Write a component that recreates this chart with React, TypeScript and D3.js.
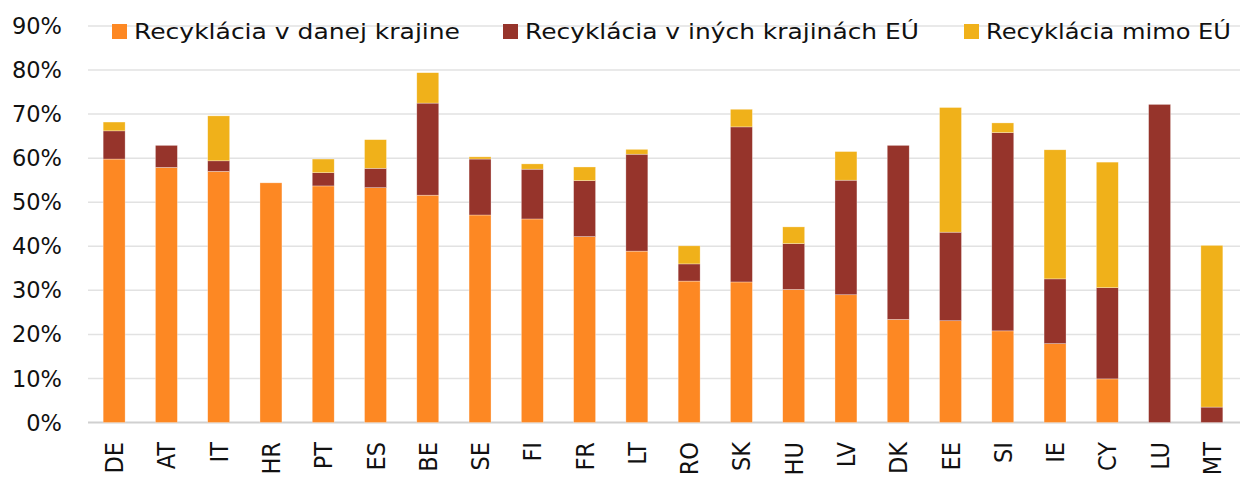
import * as d3 from "d3";

const countries = ["DE", "AT", "IT", "HR", "PT", "ES", "BE", "SE", "FI", "FR", "LT", "RO", "SK", "HU", "LV", "DK", "EE", "SI", "IE", "CY", "LU", "MT"];
// podiel recyklácie v danej krajine (%)
const domestic = [59.8, 57.9, 57.0, 54.4, 53.7, 53.3, 51.6, 47.1, 46.2, 42.2, 38.9, 32.1, 31.9, 30.2, 29.0, 23.4, 23.1, 20.8, 17.9, 9.9, 0, 0];
const otherEu = [6.4, 5.0, 2.4, 0, 3.0, 4.4, 20.9, 12.7, 11.3, 12.7, 22.0, 3.9, 35.2, 10.4, 26.0, 39.5, 20.1, 45.0, 14.7, 20.7, 72.2, 3.5];
const outsideEu = [2.0, 0, 10.2, 0, 3.1, 6.5, 6.9, 0.5, 1.2, 3.1, 1.1, 4.1, 4.0, 3.8, 6.5, 0, 28.3, 2.2, 29.3, 28.5, 0, 36.7];
const seriesNames = ["Recyklácia v danej krajine", "Recyklácia v iných krajinách EÚ", "Recyklácia mimo EÚ"];
const colors = ["#FD8823", "#96342B", "#F0B11A"];
const yTicks = [0, 10, 20, 30, 40, 50, 60, 70, 80, 90];

const W = 1240;
const H = 477;
const left = 88;
const right = 1238;
const top = 26;
const bottom = 422.5;
const font = "'DejaVu Sans', sans-serif";

// legenda: pozícia štvorčeka a šírka textu
const legendX = [112, 503, 964];
const legendLen = [326, 394, 245];

export default function App() {
  const x = d3.scaleBand<string>().domain(countries).range([left, right]).paddingInner(0.58).paddingOuter(0.29);
  const y = d3.scaleLinear().domain([0, 90]).range([bottom, top]);

  const rows = countries.map((c, i) => ({ c, a: domestic[i], b: otherEu[i], d: outsideEu[i] }));
  const stack = d3.stack<any>().keys(["a", "b", "d"])(rows);

  return (
    <svg width={W} height={H} style={{ position: "absolute", left: 0, top: 0, background: "#fff" }} fontFamily={font}>
      {yTicks.map((t) => (
        <g key={t}>
          <line x1={left} x2={W} y1={y(t)} y2={y(t)} stroke={t === 0 ? "#d0d0d0" : "#e2e2e2"} strokeWidth={t === 0 ? 2 : 1.5} />
          <text x={62} y={y(t)} dy="0.36em" textAnchor="end" fontSize={22.5} fill="#111">
            {t}%
          </text>
        </g>
      ))}

      {stack.map((layer, si) => (
        <g key={si} fill={colors[si]}>
          {layer.map((d, i) =>
            d[1] - d[0] > 0 ? (
              <rect
                key={i}
                x={x(countries[i])}
                width={x.bandwidth()}
                y={y(d[1])}
                height={y(d[0]) - y(d[1])}
                stroke="#fff"
                strokeOpacity={0.5}
                strokeWidth={0.6}
              />
            ) : null
          )}
        </g>
      ))}

      {countries.map((c) => {
        const cx = (x(c) ?? 0) + x.bandwidth() / 2;
        return (
          <text
            key={c}
            transform={`translate(${cx},442) rotate(-90)`}
            textAnchor="end"
            dy="0.36em"
            fontSize={25}
            fontFamily="'DejaVu Sans Condensed', 'DejaVu Sans', sans-serif"
            fill="#111"
          >
            {c}
          </text>
        );
      })}

      {seriesNames.map((n, i) => (
        <g key={n} transform={`translate(${legendX[i]},24)`}>
          <rect width={15} height={15} fill={colors[i]} />
          <text x={22} y={15} fontSize={21} fill="#111" textLength={legendLen[i]} lengthAdjust="spacingAndGlyphs">
            {n}
          </text>
        </g>
      ))}
    </svg>
  );
}
